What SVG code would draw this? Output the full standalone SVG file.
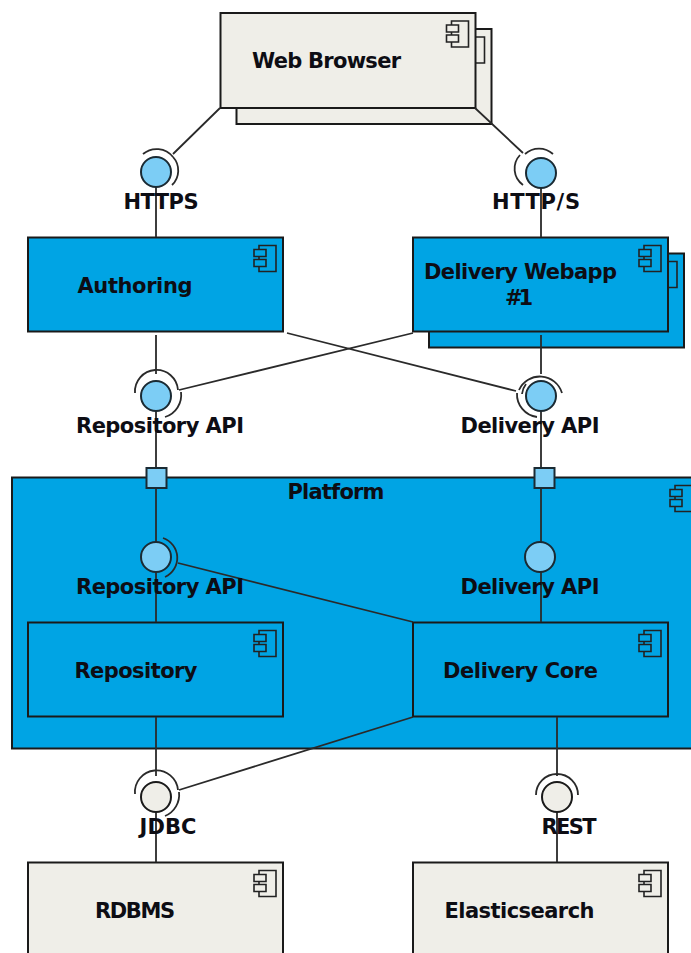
<svg xmlns="http://www.w3.org/2000/svg" width="691" height="953" viewBox="0 0 691 953">
<style>
.b{stroke:#1a1a1a;stroke-width:2}
.cream{fill:#efeee8}
.blue{fill:#00a4e4}
.ball{fill:#7ccdf5;stroke:#1a2a33;stroke-width:2}
.gball{fill:#efeee8;stroke:#1a1a1a;stroke-width:2}
.c{fill:none;stroke:#2a2a2a;stroke-width:1.8}
.i{fill:none;stroke:#222;stroke-width:1.6}
.t{stroke:#222;stroke-width:1.6}
text{font-family:"DejaVu Sans",sans-serif;font-weight:bold;font-size:21px;fill:#0d0d14;text-anchor:middle}
</style>
<defs>
<g id="ic">
<path class="i" d="M-24 8H-7V34H-24Z"/>
<path class="t" d="M-29 12H-17V19H-29ZM-29 22H-17V29H-29Z"/>
</g>
</defs>
<rect width="691" height="953" fill="#fff"/>
<g id="webbrowser">
<rect class="b cream" x="236.500" y="29" width="255" height="95"/>
<use href="#ic" class="cream" x="491.500" y="29"/>
<rect class="b cream" x="220.500" y="13" width="255" height="95"/>
<use href="#ic" class="cream" x="475.500" y="13"/>
<text x="326.500" y="68" textLength="149">Web Browser</text>
</g>
<g id="authoring">
<rect class="b blue" x="28" y="237.500" width="255" height="94"/>
<use href="#ic" class="blue" x="283" y="237.500"/>
<text x="135" y="293" textLength="115">Authoring</text>
</g>
<g id="webapp">
<rect class="b blue" x="429" y="253.500" width="255" height="94"/>
<use href="#ic" class="blue" x="684" y="253.500"/>
<rect class="b blue" x="413" y="237.500" width="255" height="94"/>
<use href="#ic" class="blue" x="668" y="237.500"/>
<text x="520.500" y="279" textLength="193">Delivery Webapp</text>
<text x="519" y="305" textLength="28">#1</text>
</g>
<g id="platform">
<rect class="b blue" x="12" y="477.500" width="690" height="271"/>
<use href="#ic" class="blue" x="699" y="477.500"/>
<text x="336" y="499" textLength="97">Platform</text>
</g>
<g id="repository">
<rect class="b blue" x="28" y="622.500" width="255" height="94"/>
<use href="#ic" class="blue" x="283" y="622.500"/>
<text x="136" y="678" textLength="123">Repository</text>
</g>
<g id="deliverycore">
<rect class="b blue" x="413" y="622.500" width="255" height="94"/>
<use href="#ic" class="blue" x="668" y="622.500"/>
<text x="520.500" y="678" textLength="155">Delivery Core</text>
</g>
<g id="rdbms">
<rect class="b cream" x="28" y="862.500" width="255" height="110"/>
<use href="#ic" class="cream" x="283" y="862.500"/>
<text x="135" y="918" textLength="80">RDBMS</text>
</g>
<g id="elasticsearch">
<rect class="b cream" x="413" y="862.500" width="255" height="110"/>
<use href="#ic" class="cream" x="668" y="862.500"/>
<text x="519.500" y="918" textLength="150">Elasticsearch</text>
</g>
<g id="connectors">
<path class="c" d="M220 108L173 154M156 186V237M475 108L523 153M541 187V237"/>
<path class="c" d="M156 335V374M541 335V374M287 333L516 391M413 333L179 390"/>
<path class="c" d="M156 411V468M541 411V468M156 488V542M156 572V622M541 488V542M541 572V622M178 563L413 622"/>
<path class="c" d="M156 717V776M557 717V776M156 812V862M557 812V862M413 717L179 790"/>
</g>
<g id="port-a"><rect class="ball" x="146.500" y="468" width="20" height="20"/></g>
<g id="port-b"><rect class="ball" x="534.500" y="468" width="20" height="20"/></g>
<g id="if-https">
<circle class="ball" cx="156" cy="172" r="15"/>
<path class="c" d="M143 154A21 21 0 0 1 173 157"/>
<path class="c" d="M173 157A20 20 0 0 1 172 185"/>
<text x="161" y="209" textLength="75">HTTPS</text>
</g>
<g id="if-https2">
<circle class="ball" cx="541" cy="173" r="15"/>
<path class="c" d="M525 154A21 21 0 0 1 553 154"/>
<path class="c" d="M520 155A20 20 0 0 0 523 185"/>
<text x="536" y="209" textLength="88">HTTP/S</text>
</g>
<g id="if-repo-ext">
<circle class="ball" cx="156" cy="396" r="15"/>
<path class="c" d="M135 393A21 21 0 0 1 178 390"/>
<path class="c" d="M181 392A23 23 0 0 1 165 417"/>
<text x="160" y="433" textLength="168">Repository API</text>
</g>
<g id="if-del-ext">
<circle class="ball" cx="541" cy="396" r="15"/>
<path class="c" d="M519 390A23 23 0 0 1 562 393"/>
<path class="c" d="M517 393A23 23 0 0 0 537 417"/>
<path class="c" d="M522 394A19 19 0 0 1 526 384"/>
<text x="530" y="433" textLength="139">Delivery API</text>
</g>
<g id="if-repo-int">
<circle class="ball" cx="156" cy="557" r="15"/>
<path class="c" d="M163 538A21 21 0 0 1 165 577"/>
<text x="160" y="594" textLength="168">Repository API</text>
</g>
<g id="if-del-int">
<circle class="ball" cx="540" cy="557" r="15"/>
<text x="530" y="594" textLength="139">Delivery API</text>
</g>
<g id="if-jdbc">
<circle class="gball" cx="156" cy="797" r="15"/>
<path class="c" d="M135 794A21 21 0 0 1 178 790"/>
<path class="c" d="M179 792A23 23 0 0 1 165 816"/>
<text x="168" y="834" textLength="57">JDBC</text>
</g>
<g id="if-rest">
<circle class="gball" cx="557" cy="797" r="15"/>
<path class="c" d="M536 795A21 21 0 0 1 578 795"/>
<text x="569" y="834" textLength="55">REST</text>
</g>
</svg>
